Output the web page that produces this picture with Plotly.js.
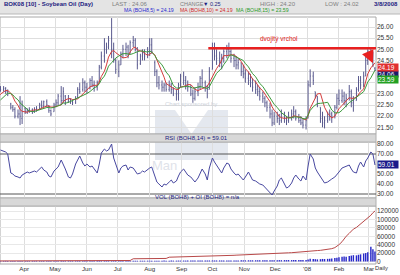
<!DOCTYPE html>
<html><head><meta charset="utf-8">
<script src="https://cdn.plot.ly/plotly-3.0.1.min.js"></script>
<style>html,body{margin:0;padding:0;background:#fff;} #chart{width:400px;height:275px;}</style>
</head><body><div id="chart"></div>
<script>
const dates = ["2007-02-19","2007-02-21","2007-02-23","2007-02-26","2007-02-28","2007-03-02","2007-03-05","2007-03-07","2007-03-09","2007-03-12","2007-03-14","2007-03-16","2007-03-19","2007-03-21","2007-03-23","2007-03-26","2007-03-28","2007-03-30","2007-04-02","2007-04-04","2007-04-06","2007-04-09","2007-04-11","2007-04-13","2007-04-16","2007-04-18","2007-04-20","2007-04-23","2007-04-25","2007-04-27","2007-04-30","2007-05-02","2007-05-04","2007-05-07","2007-05-09","2007-05-11","2007-05-14","2007-05-16","2007-05-18","2007-05-21","2007-05-23","2007-05-25","2007-05-28","2007-05-30","2007-06-01","2007-06-04","2007-06-06","2007-06-08","2007-06-11","2007-06-13","2007-06-15","2007-06-18","2007-06-20","2007-06-22","2007-06-25","2007-06-27","2007-06-29","2007-07-02","2007-07-04","2007-07-06","2007-07-09","2007-07-11","2007-07-13","2007-07-16","2007-07-18","2007-07-20","2007-07-23","2007-07-25","2007-07-27","2007-07-30","2007-08-01","2007-08-03","2007-08-06","2007-08-08","2007-08-10","2007-08-13","2007-08-15","2007-08-17","2007-08-20","2007-08-22","2007-08-24","2007-08-27","2007-08-29","2007-08-31","2007-09-03","2007-09-05","2007-09-07","2007-09-10","2007-09-12","2007-09-14","2007-09-17","2007-09-19","2007-09-21","2007-09-24","2007-09-26","2007-09-28","2007-10-01","2007-10-03","2007-10-05","2007-10-08","2007-10-10","2007-10-12","2007-10-15","2007-10-17","2007-10-19","2007-10-22","2007-10-24","2007-10-26","2007-10-29","2007-10-31","2007-11-02","2007-11-05","2007-11-07","2007-11-09","2007-11-12","2007-11-14","2007-11-16","2007-11-19","2007-11-21","2007-11-23","2007-11-26","2007-11-28","2007-11-30","2007-12-03","2007-12-05","2007-12-07","2007-12-10","2007-12-12","2007-12-14","2007-12-17","2007-12-19","2007-12-21","2007-12-24","2007-12-26","2007-12-28","2007-12-31","2008-01-02","2008-01-04","2008-01-07","2008-01-09","2008-01-11","2008-01-14","2008-01-16","2008-01-18","2008-01-21","2008-01-23","2008-01-25","2008-01-28","2008-01-30","2008-02-01","2008-02-04","2008-02-06","2008-02-08","2008-02-11","2008-02-13","2008-02-15","2008-02-18","2008-02-20","2008-02-22","2008-02-25","2008-02-27","2008-02-29","2008-03-03","2008-03-05","2008-03-07"];

const openP = [21.95,22.05,22.2,22.45,22.65,
 22.8,23.0,23.1,23.25,23.2,23.25,23.1,22.55,22.4,22.3,22.0,22.1,21.9,
 22.35,22.2,22.25,22.3,22.2,22.3,22.35,22.5,22.45,22.65,22.45,22.25,22.2,
 22.5,22.6,22.9,22.7,22.9,22.65,22.75,22.65,22.6,22.85,23.2,23.2,23.5,
 23.3,23.25,23.6,23.4,23.3,23.55,24.2,24.7,25.0,25.1,25.5,25.0,24.5,
 24.0,24.3,24.8,25.0,25.1,24.8,25.3,25.4,25.0,24.35,24.7,24.8,24.7,
 24.9,25.2,24.4,24.0,23.5,23.4,23.3,23.4,23.2,23.4,23.2,23.0,23.0,23.4,
 23.8,23.6,23.4,23.3,23.0,22.8,23.1,23.3,23.7,23.5,23.3,23.2,
 24.1,25.0,24.7,24.6,24.5,24.6,24.9,25.0,24.9,24.6,24.5,24.3,24.4,24.0,
 23.9,23.7,23.6,23.5,23.3,23.2,23.1,22.9,22.8,22.6,22.4,22.1,21.7,
 22.0,21.9,21.8,22.1,21.9,21.8,22.0,22.1,22.2,21.9,21.8,21.7,21.6,
 21.9,23.4,23.8,23.1,22.9,22.4,21.9,21.7,21.8,22.0,22.1,22.0,22.4,
 22.8,22.7,22.9,22.7,22.8,23.1,22.6,22.7,23.2,23.6,23.4,23.8,24.5,
 24.9,24.8,24.15];
const highP = [22.15,22.35,22.5,22.75,22.95,
 23.15,23.25,23.4,23.35,23.35,23.3,23.2,22.6,22.5,22.4,22.3,22.9,22.7,
 22.4,22.35,22.4,22.35,22.4,22.45,22.6,22.7,22.7,22.75,22.5,22.3,22.6,
 22.75,23.0,23.35,23.3,22.95,22.95,22.8,22.75,22.9,23.3,23.5,23.7,23.6,
 23.5,23.7,23.8,23.6,23.6,24.3,24.9,25.5,25.3,25.6,26.4,25.3,24.6,
 24.5,24.9,25.2,25.3,25.2,25.4,25.6,25.5,25.1,24.8,25.0,25.0,25.1,
 25.5,25.5,24.5,24.1,23.8,23.6,23.5,23.5,23.6,23.5,23.3,23.2,23.5,23.9,
 24.0,23.8,23.6,23.4,23.2,23.3,23.5,23.8,24.1,23.6,23.4,24.2,
 25.3,25.3,25.0,24.9,24.8,25.0,25.2,25.3,25.0,24.8,24.7,24.6,24.4,24.3,
 24.1,24.0,23.9,23.7,23.6,23.4,23.3,23.1,22.9,22.7,22.6,22.3,22.2,
 22.2,22.1,22.3,22.2,22.0,22.2,22.3,22.45,22.3,22.1,22.0,21.9,22.0,
 23.6,24.1,24.0,23.1,22.9,22.4,22.2,22.0,22.2,22.3,22.2,22.5,23.0,
 23.2,23.2,23.1,23.0,23.4,23.2,22.9,23.3,23.8,23.8,24.0,24.7,25.0,
 25.05,24.9,24.2];
const lowP = [21.85,22.0,22.15,22.4,22.6,
 22.75,22.9,23.05,23.1,23.1,23.0,22.9,22.3,22.2,21.9,21.9,21.6,21.65,
 22.1,22.1,22.15,22.1,22.15,22.2,22.3,22.35,22.4,22.4,22.15,22.0,22.2,
 22.4,22.5,22.5,22.6,22.5,22.6,22.55,22.5,22.55,22.8,23.0,23.1,23.1,
 23.0,23.2,23.3,23.1,23.15,23.5,24.1,24.4,24.8,25.0,24.6,24.4,23.9,
 23.75,24.3,24.6,24.7,24.6,24.8,25.1,24.9,24.1,24.3,24.5,24.5,24.6,
 24.7,24.8,23.8,23.3,23.2,23.1,23.1,23.1,23.1,23.0,22.9,22.7,22.7,23.3,
 23.4,23.2,23.1,22.9,22.6,22.7,22.9,23.2,23.3,23.1,22.8,23.2,
 24.1,24.5,24.3,24.2,24.1,24.4,24.6,24.7,24.4,24.2,24.1,24.1,23.8,23.7,
 23.5,23.4,23.3,23.1,23.0,22.9,22.7,22.6,22.4,22.2,21.9,21.55,21.6,
 21.7,21.6,21.7,21.7,21.6,21.7,21.8,21.9,21.8,21.7,21.6,21.45,21.4,
 21.9,23.3,23.4,22.8,22.4,21.7,21.5,21.45,21.7,21.8,21.7,21.9,22.3,
 22.5,22.6,22.5,22.4,22.7,22.4,22.2,22.7,23.1,23.2,23.3,23.8,24.3,
 24.5,24.2,24.02];
const closeP = [22.0,22.2,22.4,22.6,22.8,
 23.0,23.1,23.25,23.2,23.25,23.1,23.0,22.4,22.3,22.0,22.1,22.0,22.5,
 22.2,22.25,22.3,22.2,22.3,22.35,22.5,22.45,22.65,22.5,22.25,22.1,22.5,
 22.6,22.9,22.7,23.1,22.6,22.8,22.65,22.6,22.8,23.2,23.1,23.5,23.3,
 23.2,23.6,23.4,23.3,23.5,24.2,24.7,25.0,25.1,25.4,25.0,24.5,24.1,
 24.3,24.8,25.0,25.1,24.8,25.3,25.4,25.0,24.3,24.7,24.8,24.7,24.9,
 25.2,24.9,24.0,23.5,23.4,23.3,23.4,23.2,23.4,23.2,23.0,23.0,23.4,23.8,
 23.6,23.4,23.3,23.0,22.8,23.1,23.3,23.7,23.5,23.3,23.2,24.0,
 25.0,24.7,24.6,24.5,24.6,24.9,25.0,24.9,24.6,24.5,24.3,24.4,24.0,23.9,
 23.7,23.6,23.5,23.3,23.2,23.1,22.9,22.8,22.6,22.4,22.1,21.7,22.0,
 21.9,21.8,22.1,21.9,21.8,22.0,22.1,22.2,21.9,21.8,21.7,21.6,21.8,
 23.4,23.8,23.6,22.9,22.5,21.9,21.7,21.8,22.0,22.1,22.0,22.4,22.8,
 22.7,22.9,22.7,22.8,23.1,22.6,22.7,23.2,23.6,23.4,23.8,24.5,24.9,
 24.8,24.3,24.06];
const rsiVals = [null,null,null,null,null,
 null,null,null,74,73,72,70,51,50,48,47,46,49,
 51,52,51,52,53,52,55,57,54,52,48,47,53,
 55,57,64,60,55,47,46,50,60,64,68,61,58,
 60,57,58,55,51,60,71,75,73,74,80,66,59,
 51,56,58,59,54,57,56,53,50,51,53,52,55,
 56,57,47,42,40,37,40,39,42,44,41,43,48,52,
 55,52,49,47,44,42,46,51,55,50,44,56,
 66,62,59,54,51,56,61,60,55,51,49,50,46,44,
 47,52,48,44,43,41,40,39,37,35,32,29,33,
 38,44,46,40,36,37,41,46,49,45,43,48,44,
 58,70,65,56,52,47,44,41,42,44,45,47,50,
 52,56,57,58,59,55,52,51,58,62,57,63,66,
 72,70,59];
const volume = [1200,1100,1300,1200,1250,
 1300,1200,1400,1300,1250,1350,1400,1300,1200,1350,1300,1400,1250,
 1300,1250,1200,1350,1300,1400,1300,1250,1350,1400,1300,1200,1350,
 1400,1300,1450,1350,1300,1400,1500,1350,1400,1450,1300,1400,1500,
 1450,1500,1400,1550,1500,1600,1700,1650,1600,1700,1800,1650,1600,
 1700,1600,1750,1700,1800,1650,1750,1800,1700,1850,1750,1800,1900,
 1850,1900,2000,1950,1900,2000,2100,1950,2000,2100,2050,2000,2150,2100,
 2200,2100,2150,2200,2300,2200,2250,2300,2200,2350,2300,2400,
 2500,2400,2450,2500,2400,2550,2500,2600,2500,2550,2600,2500,2700,2650,
 2700,2800,2750,2800,2900,2850,2800,3000,2900,2950,3100,3000,3050,
 3100,3200,3100,3300,3200,3400,3300,3500,3400,3300,3500,3600,3500,
 5000,6500,6000,5500,5000,5500,6000,5800,6200,6500,7000,8000,9000,
 10000,11000,12000,11500,13000,14000,15000,14500,16000,17000,19000,20000,22000,
 35000,29000,24000];
const openInterest = [1200,1200,1250,1250,1300,
 1300,1300,1350,1350,1400,1400,1400,1450,1450,1500,1500,1500,1500,
 1550,1550,1550,1600,1600,1600,1650,1650,1650,1700,1700,1700,1750,
 1750,1750,1800,1800,1800,1850,1850,1850,1900,1900,1900,1950,1950,
 1950,2000,2000,2000,2050,2050,2100,2100,2150,2150,2200,2200,2250,
 2250,2300,2300,2300,2350,2350,6500,6500,6600,6600,6700,6700,6800,
 6800,6900,6900,7000,7000,7100,7100,7200,10200,10300,10400,10500,10600,10700,
 10800,10900,11000,11100,11200,11300,11400,11500,11600,11700,11800,11900,
 12000,12300,12600,12900,13200,13500,13800,14100,14400,14700,15000,15300,15600,15900,
 16200,16500,16800,17100,17400,17700,18000,18200,18400,18600,18800,19000,19200,
 19400,19600,19800,20000,20300,20600,20900,21200,21500,21800,22100,22400,22700,
 23500,24500,25000,25500,26000,26500,27000,27500,28500,29500,30500,33000,36000,
 40000,47000,54000,60000,67000,73000,77000,81000,85000,89000,94000,99000,104000,
 110000,116000,120000];

const monthTicks = ["2007-04-01","2007-05-01","2007-06-01","2007-07-01","2007-08-01","2007-09-01","2007-10-01","2007-11-01","2007-12-01","2008-01-01","2008-02-01","2008-03-01"];
const monthLabels = ["Apr","May","Jun","Jul","Aug","Sep","Oct","Nov","Dec","'08","Feb","Mar"];
const priceTicks = [21.5,22,22.5,23,23.5,24,24.5,25,25.5,26];
const priceLabels = ["21.50","22.00","22.50","23.00","","","24.50","25.00","25.50","26.00"];
const rsiTicks = [30,40,50,60,70,80];
const rsiLabels = ["30.00","40.00","50.00","","70.00","80.00"];
const volTicks = [0,20000,40000,60000,80000,100000,120000];
const doubleTop = 25.05;

function sma(a, n) { return a.map((v, i) => i < n - 1 ? null : a.slice(i - n + 1, i + 1).reduce((s, x) => s + x, 0) / n); }

// layout geometry helpers (pixel -> paper)
const PW = 376, PT = 17, PB = 264, PH = PB - PT;
const px = p => p / PW;
const py = p => (PB - p) / PH;

const FONT = 'Liberation Sans, Arial, sans-serif';
const barCol = '#5a5a8e';

const traces = [
  {type:'ohlc', x:dates, open:openP, high:highP, low:lowP, close:closeP, xaxis:'x', yaxis:'y',
   increasing:{line:{color:barCol, width:1}}, decreasing:{line:{color:barCol, width:1}}, tickwidth:0.3, hoverinfo:'skip'},
  {type:'scatter', mode:'lines', x:dates, y:sma(closeP, 6), yaxis:'y', line:{color:'#d43c3c', width:1}, hoverinfo:'skip'},
  {type:'scatter', mode:'lines', x:dates, y:sma(closeP, 9), yaxis:'y', line:{color:'#3c9a3c', width:1}, hoverinfo:'skip'},
  {type:'scatter', mode:'lines', x:dates, y:rsiVals, yaxis:'y2', line:{color:'#4848a0', width:1}, hoverinfo:'skip'},
  {type:'bar', x:dates, y:volume, yaxis:'y3', marker:{color:'#2828c8', line:{width:0}}, hoverinfo:'skip'},
  {type:'scatter', mode:'lines', x:dates, y:openInterest, yaxis:'y3', line:{color:'#b84848', width:1}, hoverinfo:'skip'}
];

const grid = '#dedede';
const tickFont = {family:FONT, size:6.5, color:'#333'};

function box(yref, y, text, bg, fg, shift, h) {
  return {xref:'paper', x:1, xanchor:'left', xshift:1, yref:yref, y:y, yanchor:'middle', yshift:shift || 0, text:text, showarrow:false,
          bgcolor:bg, font:{family:FONT, size:6.5, color:fg}, width:20, height:h || 7, borderpad:0, align:'left'};
}
function hdr(x, y, text, color, size) {
  return {xref:'paper', yref:'paper', x:px(x), y:py(y), xanchor:'left', yanchor:'middle', text:text, showarrow:false,
          font:{family:FONT, size:size || 6, color:color}};
}

const layout = {
  width:400, height:275,
  margin:{l:0, r:24, t:PT, b:275-PB},
  paper_bgcolor:'#fff', plot_bgcolor:'#fff',
  showlegend:false, bargap:0.3,
  font:{family:FONT, size:6, color:'#333'},
  xaxis:{type:'date', range:['2007-03-08 12:00','2008-03-08'], tickvals:monthTicks, ticktext:monthLabels,
         showgrid:true, gridcolor:grid, gridwidth:1, ticks:'', anchor:'y3', tickfont:{family:FONT, size:6.2, color:'#333'},
         rangeslider:{visible:false}, zeroline:false, showline:false, fixedrange:true},
  yaxis:{domain:[py(134), 1], range:[21.2, 26.45], side:'right', tickvals:priceTicks, ticktext:priceLabels,
         showgrid:true, gridcolor:grid, ticks:'', tickfont:tickFont, zeroline:false, fixedrange:true},
  yaxis2:{domain:[py(198), py(142)], range:[26, 82], side:'right', tickvals:rsiTicks, ticktext:rsiLabels,
          showgrid:false, ticks:'', tickfont:tickFont, zeroline:false, fixedrange:true},
  yaxis3:{domain:[0, py(206)], range:[-6000, 132000], side:'right', tickvals:volTicks, tickformat:'d',
          showgrid:true, gridcolor:'#e8e8e8', ticks:'', tickfont:tickFont, zeroline:false, fixedrange:true},
  shapes:[
    // watermark M
    {type:'path', xref:'paper', yref:'paper', layer:'below', fillcolor:'#e4e8ef', line:{width:0},
     path:`M ${px(155)},${py(110)} L ${px(175)},${py(110)} L ${px(191.5)},${py(134)} L ${px(208)},${py(110)} L ${px(228)},${py(110)} L ${px(228)},${py(160)} L ${px(155)},${py(160)} Z`},
    // header bar
    {type:'rect', xref:'paper', yref:'paper', x0:0, x1:400/PW, y0:py(0), y1:py(14), fillcolor:'#e4e4e4', line:{width:0}, layer:'below'},
    {type:'line', xref:'paper', yref:'paper', x0:0, x1:400/PW, y0:py(14), y1:py(14), line:{color:'#b8b8b8', width:1}},
    // label bars
    {type:'rect', xref:'paper', yref:'paper', x0:0, x1:1, y0:py(142), y1:py(134), fillcolor:'#d8d8d8', line:{color:'#b0b0b0', width:1}},
    {type:'rect', xref:'paper', yref:'paper', x0:0, x1:1, y0:py(206), y1:py(198), fillcolor:'#d8d8d8', line:{color:'#b0b0b0', width:1}},
    // panel frames
    {type:'rect', xref:'paper', yref:'paper', x0:0, x1:1, y0:py(134), y1:1, line:{color:'#a8a8a8', width:1}, layer:'below'},
    {type:'rect', xref:'paper', yref:'paper', x0:0, x1:1, y0:py(198), y1:py(142), line:{color:'#a8a8a8', width:1}, layer:'below'},
    {type:'rect', xref:'paper', yref:'paper', x0:0, x1:1, y0:0, y1:py(206), line:{color:'#a8a8a8', width:1}, layer:'below'},
    // RSI 70 / 30
    {type:'line', xref:'paper', x0:0, x1:1, yref:'y2', y0:70, y1:70, line:{color:'#555', width:1}, layer:'below'},
    {type:'line', xref:'paper', x0:0, x1:1, yref:'y2', y0:30, y1:30, line:{color:'#555', width:1}, layer:'below'},
    // double top line
    {type:'line', xref:'x', x0:'2007-09-27', x1:'2008-03-08', yref:'y', y0:doubleTop, y1:doubleTop, line:{color:'#e82020', width:2.5}}
  ],
  annotations:[
    // watermark text
    {xref:'paper', yref:'paper', x:px(191), y:py(104), text:'Chart sponsored by', showarrow:false, font:{family:FONT, size:6, color:'#cdd2da'}},
    {xref:'paper', yref:'paper', x:px(150), y:py(165), xanchor:'left', text:'Man', showarrow:false, font:{family:FONT, size:13, color:'#dfe3ea'}},
    // header
    hdr(2, 4, '<b>BOK08 [10] - Soybean Oil (Day)</b>', '#1c1c80'),
    hdr(110, 4, 'LAST : 24.06', '#808080'),
    hdr(178, 4, 'CHANGE', '#808080', 5.5),
    hdr(201, 4, '▼ 0.25', '#1c1c80', 5.5),
    hdr(258, 4, 'HIGH : 24.20', '#808080'),
    hdr(323, 4, 'LOW : 24.02', '#808080'),
    hdr(372, 4, '<b>3/8/2008</b>', '#1c1c80'),
    hdr(122, 10.5, 'MA (BOH8,5) = 24.19', '#2a2ad0', 5.2),
    hdr(178, 10.5, 'MA (BOH8,10) = 24.19', '#d02a2a', 5.2),
    hdr(234, 10.5, 'MA (BOH8,15) = 23.59', '#2a9a2a', 5.2),
    // panel labels
    {xref:'paper', yref:'paper', x:px(196), y:py(138), text:'RSI (BOH8,14) = 59.01', showarrow:false, font:{family:FONT, size:6, color:'#1c1c80'}},
    {xref:'paper', yref:'paper', x:px(198), y:py(202), text:'VOL (BOH8) + OI (BOH8) = n/a', showarrow:false, font:{family:FONT, size:6, color:'#1c1c80'}},
    // double top text + arrow
    {xref:'x', yref:'y', x:'2007-12-05', y:25.48, text:'dvojitý vrchol', showarrow:false, font:{family:FONT, size:6.5, color:'#e02020'}},
    {xref:'x', yref:'y', x:'2008-03-05', y:24.38, ax:-5, ay:-11, text:'', showarrow:true, arrowhead:2, arrowsize:1, arrowwidth:2.5, arrowcolor:'#e82020'},
    // right price boxes
    box('y', 24.06, '24.06', '#1a1a6a', '#fff', -3.5, 6),
    box('y', 24.19, '24.19', '#e03030', '#fff'),
    box('y', 23.59, '23.59', '#22a022', '#fff', 1),
    box('y2', 59.01, '59.01', '#1a1a8a', '#fff'),
    // Daily
    {xref:'paper', yref:'paper', x:px(389), y:py(272), text:'Daily', showarrow:false, borderpad:0, font:{family:FONT, size:5.8, color:'#333'}}
  ]
};

Plotly.newPlot('chart', traces, layout, {staticPlot:true, displayModeBar:false});
</script></body></html>
